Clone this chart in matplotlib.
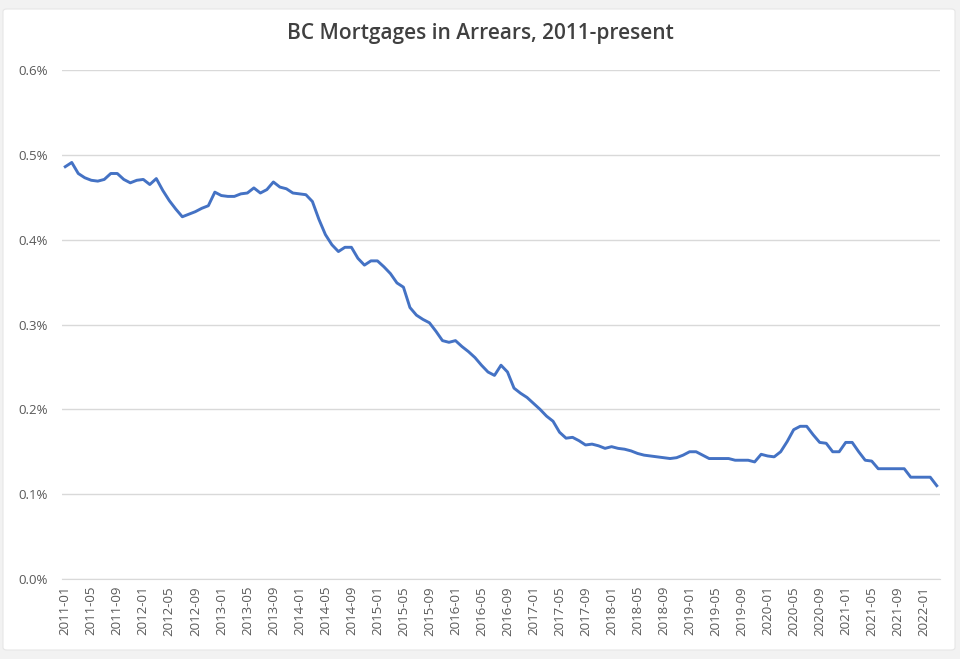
import matplotlib.pyplot as plt
from matplotlib.patches import FancyBboxPatch
from matplotlib.ticker import FuncFormatter

# monthly arrears rate (%), 2011-01 .. 2022-03
years = list(range(2011, 2023))
arrears = [
    0.486, 0.491, 0.478, 0.473, 0.470, 0.469, 0.471, 0.478, 0.478, 0.471, 0.467, 0.470,
    0.471, 0.465, 0.472, 0.458, 0.446, 0.436, 0.427, 0.430, 0.433, 0.437, 0.440, 0.456,
    0.452, 0.451, 0.451, 0.454, 0.455, 0.461, 0.455, 0.459, 0.468, 0.462, 0.460, 0.455,
    0.454, 0.453, 0.445, 0.424, 0.406, 0.394, 0.386, 0.391, 0.391, 0.378, 0.370, 0.375,
    0.375, 0.368, 0.360, 0.349, 0.344, 0.320, 0.311, 0.306, 0.302, 0.292, 0.281, 0.279,
    0.281, 0.274, 0.268, 0.261, 0.252, 0.244, 0.240, 0.252, 0.244, 0.225, 0.219, 0.214,
    0.207, 0.200, 0.192, 0.186, 0.173, 0.166, 0.167, 0.163, 0.158, 0.159, 0.157, 0.154,
    0.156, 0.154, 0.153, 0.151, 0.148, 0.146, 0.145, 0.144, 0.143, 0.142, 0.143, 0.146,
    0.150, 0.150, 0.146, 0.142, 0.142, 0.142, 0.142, 0.140, 0.140, 0.140, 0.138, 0.147,
    0.145, 0.144, 0.150, 0.162, 0.176, 0.180, 0.180, 0.170, 0.161, 0.160, 0.150, 0.150,
    0.161, 0.161, 0.150, 0.140, 0.139, 0.130, 0.130, 0.130, 0.130, 0.130, 0.120, 0.120,
    0.120, 0.120, 0.110,
]
months = [f"{y}-{m:02d}" for y in years for m in range(1, 13)][:len(arrears)]
yticks = [0.0, 0.1, 0.2, 0.3, 0.4, 0.5, 0.6]

plt.rcParams['font.family'] = ['Open Sans', 'DejaVu Sans']

fig = plt.figure(figsize=(9.6, 6.59), dpi=100, facecolor='#f2f2f2')
card = FancyBboxPatch((3 / 960, 9 / 659), 952 / 960, 641 / 659,
                      boxstyle="round,pad=0,rounding_size=0.004",
                      transform=fig.transFigure, facecolor='white',
                      edgecolor='#e6e6e6', linewidth=0.8, zorder=-1)
fig.patches.append(card)

ax = fig.add_axes([62 / 960, 1 - 579 / 659, 878 / 960, 509 / 659])
ax.set_facecolor('none')
x = list(range(len(arrears)))
ax.plot(x, arrears, color='#4472c4', linewidth=2.1, solid_joinstyle='round', zorder=3)

ax.set_xlim(-0.5, len(arrears) - 0.5)
ax.set_ylim(0, 0.6)
ax.set_yticks(yticks)
ax.yaxis.set_major_formatter(FuncFormatter(lambda v, p: f"{v:.1f}%"))
ax.set_xticks(x[::4])
ax.set_xticklabels(months[::4], rotation=90)
ax.tick_params(axis='both', length=0, colors='#595959', labelsize=9.5)
ax.tick_params(axis='x', pad=5)
ax.tick_params(axis='y', pad=10)
ax.grid(axis='y', color='#d9d9d9', linewidth=1)
for s in ['top', 'right', 'left']:
    ax.spines[s].set_visible(False)
ax.spines['bottom'].set_color('#d9d9d9')

fig.text(0.5, 1 - 33 / 659, "BC Mortgages in Arrears, 2011-present", ha='center', va='center',
         fontsize=15, fontweight='semibold', color='#404040')

fig.savefig('out.png', dpi=100, facecolor=fig.get_facecolor())
